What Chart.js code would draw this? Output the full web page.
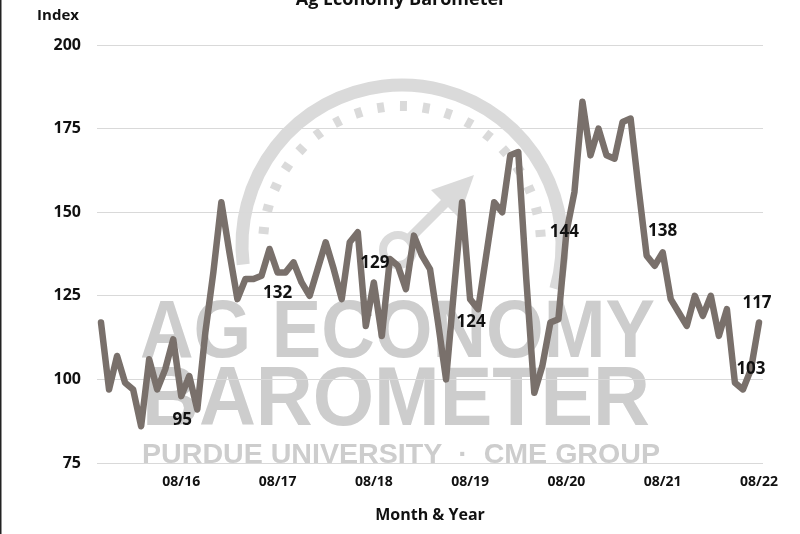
<!DOCTYPE html>
<html>
<head>
<meta charset="utf-8">
<script src="https://cdn.jsdelivr.net/npm/chart.js@4.4.1/dist/chart.umd.min.js"></script>
<style>
  html, body { margin: 0; padding: 0; background: #fff; }
  #wrap { position: relative; width: 800px; height: 534px; }
</style>
</head>
<body>
<div id="wrap"><canvas id="myChart"></canvas></div>
<script>
// month labels, Oct 2015 .. Aug 2022
const months = [
  '10/15','11/15','12/15',
  '01/16','02/16','03/16','04/16','05/16','06/16','07/16','08/16','09/16','10/16','11/16','12/16',
  '01/17','02/17','03/17','04/17','05/17','06/17','07/17','08/17','09/17','10/17','11/17','12/17',
  '01/18','02/18','03/18','04/18','05/18','06/18','07/18','08/18','09/18','10/18','11/18','12/18',
  '01/19','02/19','03/19','04/19','05/19','06/19','07/19','08/19','09/19','10/19','11/19','12/19',
  '01/20','02/20','03/20','04/20','05/20','06/20','07/20','08/20','09/20','10/20','11/20','12/20',
  '01/21','02/21','03/21','04/21','05/21','06/21','07/21','08/21','09/21','10/21','11/21','12/21',
  '01/22','02/22','03/22','04/22','05/22','06/22','07/22','08/22'
];

const barometer = [
  117, 97, 107,
  99, 97, 86, 106, 97, 103, 112, 95, 101, 91, 114, 132,
  153, 138, 124, 130, 130, 131, 139, 132, 132, 135, 129, 125,
  133, 141, 133, 124, 141, 144, 116, 129, 113, 136, 134, 127,
  143, 137, 133, 117, 100, 127, 153, 124, 121, 137, 153, 150,
  167, 168, 130, 96, 104, 117, 118, 144, 156, 183, 167, 175,
  167, 166, 177, 178, 157, 137, 134, 138, 124, 120, 116, 125,
  119, 125, 113, 121, 99, 97, 103, 117
];

const yTicks = [75, 100, 125, 150, 175, 200];

// months that get a value label
const labelled = ['08/16', '08/17', '08/18', '08/19', '08/20', '08/21', '07/22', '08/22'];

const lineColor = '#79706b';
const boldFont = '"Open Sans", "Liberation Sans", sans-serif';

// label offsets (dx, dy) from the point, same order as labelled
const labelShift = [[1, 24], [0, 21], [1, -19], [1, 23], [-2, 0], [0, -21], [0, 0], [-2, -19]];

function drawWatermark(ctx) {
  const cx = 402, cy = 245;
  ctx.save();
  ctx.strokeStyle = '#dadada';
  ctx.fillStyle = '#dadada';
  // gauge ring
  ctx.lineWidth = 13;
  ctx.beginPath();
  ctx.arc(cx, cy, 160, 173 * Math.PI / 180, 376 * Math.PI / 180);
  ctx.stroke();
  // gauge ticks
  ctx.lineWidth = 7;
  for (let a = 186; a <= 364; a += 9.4) {
    const r = a * Math.PI / 180;
    ctx.beginPath();
    ctx.moveTo(cx + 134 * Math.cos(r), cy + 134 * Math.sin(r));
    ctx.lineTo(cx + 144 * Math.cos(r), cy + 144 * Math.sin(r));
    ctx.stroke();
  }
  // hub + arrow
  ctx.lineWidth = 8;
  ctx.beginPath();
  ctx.arc(398, 250, 15, 0, Math.PI * 2);
  ctx.stroke();
  ctx.lineWidth = 10;
  ctx.beginPath();
  ctx.moveTo(410, 238);
  ctx.lineTo(452, 196);
  ctx.stroke();
  ctx.beginPath();
  ctx.moveTo(474, 175);
  ctx.lineTo(431, 190);
  ctx.lineTo(459, 218);
  ctx.closePath();
  ctx.fill();

  // words
  ctx.fillStyle = '#cdcdcd';
  ctx.textAlign = 'left';
  ctx.textBaseline = 'alphabetic';
  const words = [
    ['AG ECONOMY', 82, 140, 357, 515],
    ['BAROMETER', 84, 142, 425, 508],
    ['PURDUE UNIVERSITY  \u00B7  CME GROUP', 28, 142, 463, 518]
  ];
  words.forEach(function(w) {
    ctx.font = 'bold ' + w[1] + 'px "Liberation Sans", sans-serif';
    const tw = ctx.measureText(w[0]).width;
    ctx.save();
    ctx.translate(w[2], w[3]);
    ctx.scale(w[4] / tw, 1);
    ctx.fillText(w[0], 0, 0);
    ctx.restore();
  });
  ctx.restore();
}

const decor = {
  id: 'decor',
  beforeDraw(chart) {
    const ctx = chart.ctx;
    ctx.save();
    ctx.fillStyle = '#fff';
    ctx.fillRect(0, 0, chart.width, chart.height);
    ctx.restore();
    drawWatermark(ctx);
  },
  afterDatasetsDraw(chart) {
    const ctx = chart.ctx;
    const xs = chart.scales.x, ys = chart.scales.y;
    ctx.save();
    ctx.fillStyle = '#111';
    ctx.font = 'bold 17px ' + boldFont;
    ctx.textAlign = 'center';
    ctx.textBaseline = 'middle';
    labelled.forEach(function(m, k) {
      const i = months.indexOf(m);
      const px = xs.getPixelForValue(i);
      const py = ys.getPixelForValue(barometer[i]);
      ctx.fillText(String(barometer[i]), px + labelShift[k][0], py + labelShift[k][1]);
    });
    ctx.restore();
  },
  afterDraw(chart) {
    const ctx = chart.ctx;
    ctx.save();
    ctx.fillStyle = '#111';
    ctx.textAlign = 'center';
    ctx.textBaseline = 'alphabetic';
    ctx.font = 'bold 18px ' + boldFont;
    ctx.fillText('Ag Economy Barometer', 401, 5);
    ctx.font = 'bold 15px ' + boldFont;
    ctx.textBaseline = 'middle';
    ctx.fillText('Index', 58, 16);
    // frame line on the left
    ctx.fillStyle = '#222';
    ctx.fillRect(0, 0, 1.5, chart.height);
    ctx.restore();
  }
};

new Chart(document.getElementById('myChart').getContext('2d'), {
  type: 'line',
  data: {
    labels: months,
    datasets: [{
      data: barometer,
      borderColor: lineColor,
      borderWidth: 6.5,
      borderJoinStyle: 'round',
      borderCapStyle: 'round',
      pointRadius: 0,
      tension: 0,
      fill: false
    }]
  },
  options: {
    responsive: true,
    maintainAspectRatio: false,
    animation: false,
    devicePixelRatio: 1,
    layout: { padding: { top: 45, right: 37, left: 0, bottom: 0 } },
    plugins: {
      legend: { display: false },
      tooltip: { enabled: false }
    },
    scales: {
      x: {
        offset: true,
        grid: { display: false, drawTicks: false },
        border: { display: false },
        ticks: {
          autoSkip: false,
          maxRotation: 0,
          padding: 11,
          color: '#111',
          font: { family: boldFont, size: 14, weight: 'bold' },
          callback: function(v, i) {
            const m = months[i];
            return (m.slice(0, 2) === '08') ? m : '';
          }
        },
        title: {
          display: true,
          text: 'Month & Year',
          color: '#111',
          font: { family: boldFont, size: 16, weight: 'bold' },
          padding: { top: 0, bottom: 9 }
        },
        afterFit: function(s) { s.height = 71; }
      },
      y: {
        min: 75,
        max: 200,
        afterBuildTicks: function(s) { s.ticks = yTicks.map(function(v) { return { value: v }; }); },
        grid: { color: '#d9d9d9', lineWidth: 1, drawTicks: false },
        border: { display: false },
        ticks: {
          padding: 16,
          color: '#111',
          font: { family: boldFont, size: 16, weight: 'bold' }
        },
        afterFit: function(s) { s.width = 97; }
      }
    }
  },
  plugins: [decor]
});
</script>
</body>
</html>
